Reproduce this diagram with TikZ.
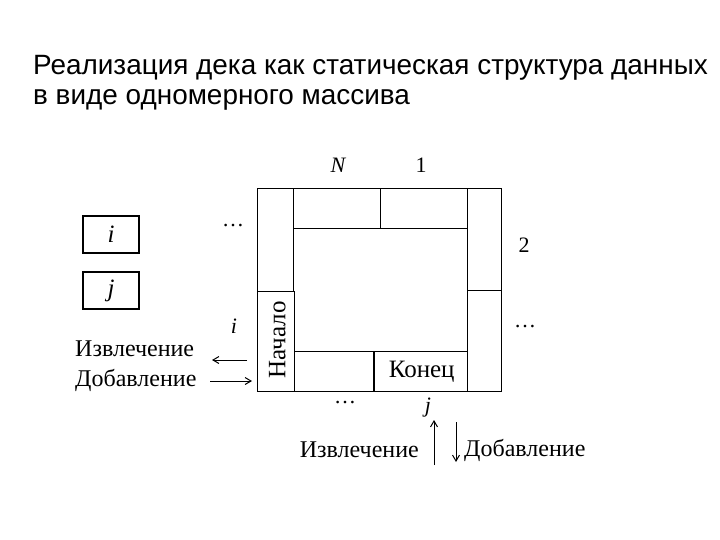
\documentclass[tikz,border=0pt]{standalone}
\usepackage{fontspec}
\setmainfont{Liberation Serif}
\newfontfamily\titlefont{Liberation Sans}
\usetikzlibrary{arrows.meta}
\begin{document}
\begin{tikzpicture}[x=1pt,y=-1pt,
  cell/.style={draw,line width=1.4pt,rectangle,inner sep=0pt,anchor=north west},
  lbl/.style={font=\fontsize{22}{24}\selectfont,inner sep=0pt},
  big/.style={font=\fontsize{25}{28}\selectfont,inner sep=0pt},
  ops/.style={font=\fontsize{24}{26}\selectfont,inner sep=0pt},
  ttl/.style={font=\titlefont\fontsize{27.9}{30}\selectfont,inner sep=0pt,anchor=west},
  ptr/.style={draw,line width=1.4pt,minimum width=56pt,minimum height=37pt,inner sep=0pt,font=\fontsize{25}{26}\selectfont},
  arr/.style={line width=1pt,-{Straight Barb[length=6pt,width=7pt]}}]
\useasboundingbox (0,0) rectangle (720,540);
% title
\node[ttl] (t1) at (33,68) {Реализация дека как статическая структура данных};
\node[ttl] (t2) at (33,100) {в виде одномерного массива};
% cells
\node[cell,minimum width=36pt,minimum height=103pt] (lu) at (257,188) {};
\node[cell,minimum width=37pt,minimum height=100pt] (beg) at (257,291) {};
\node[cell,minimum width=87pt,minimum height=40pt] (cN) at (293,188) {};
\node[cell,minimum width=87pt,minimum height=40pt] (c1) at (380,188) {};
\node[cell,minimum width=34pt,minimum height=102pt] (ru) at (467,188) {};
\node[cell,minimum width=34pt,minimum height=101pt] (rd) at (467,290) {};
\node[cell,minimum width=80pt,minimum height=40pt] (bl) at (294,351) {};
\node[cell,minimum width=94pt,minimum height=40pt] (end) at (373,351) {};
\node[big,rotate=90] at ([xshift=1pt,yshift=2pt]beg.center) {Начало};
\node[big] at ([xshift=1pt]end.center) {Конец};
% index labels
\node[lbl] (lN) at (338,165) {\itshape N};
\node[lbl] (l1) at (421,165) {1};
\node[lbl] (l2) at (524,245) {2};
\node[lbl] (d1) at (233,226) {\dots};
\node[lbl] (d2) at (525,327) {\dots};
\node[lbl] (d3) at (345,403) {\dots};
\node[lbl] (li) at (234,326) {\itshape i};
\node[lbl] (lj) at (428,408) {\itshape j};
% pointer boxes
\node[ptr] (bi) at (111,234.5) {\itshape i};
\node[ptr] (bj) at (111,290.5) {\itshape j};
% left operations
\node[ops,anchor=west] (ex1) at (75,349) {Извлечение};
\node[ops,anchor=west] (ad1) at (75,380) {Добавление};
\coordinate (a1s) at (247,360);
\coordinate (a1e) at (212,360);
\coordinate (a2s) at (210,381);
\coordinate (a2e) at (252,381);
\draw[arr] (a1s) -- (a1e);
\draw[arr] (a2s) -- (a2e);
% bottom operations
\node[ops,anchor=east] (ex2) at (419,450) {Извлечение};
\node[ops,anchor=west] (ad2) at (464,450) {Добавление};
\coordinate (b1s) at (434,465);
\coordinate (b1e) at (434,420);
\coordinate (b2s) at (456,422);
\coordinate (b2e) at (456,462);
\draw[arr] (b1s) -- (b1e);
\draw[arr] (b2s) -- (b2e);
\end{tikzpicture}
\end{document}
